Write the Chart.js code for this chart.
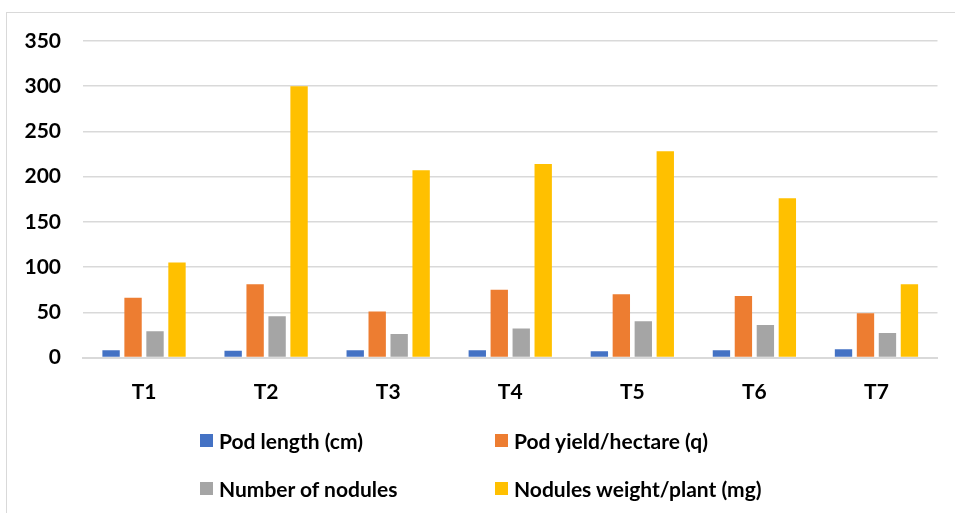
<!DOCTYPE html>
<html>
<head>
<meta charset="utf-8">
<script src="https://cdn.jsdelivr.net/npm/chart.js@4/dist/chart.umd.min.js"></script>
<style>
    html, body { margin: 0; padding: 0; background: #fff; overflow: hidden; }
    #wrap { position: relative; width: 955px; height: 513px; }
    #frame { position: absolute; left: 6px; top: 12px; width: 1200px; height: 1200px;
             border: 1px solid #d9d9d9; box-sizing: border-box; }
    #chart { position: absolute; left: 0; top: 0; }
    #legend { position: absolute; left: 0; top: 0; width: 955px; height: 513px;
              font-family: 'Lato', sans-serif; font-weight: bold; font-size: 21px; color: #000; }
    .item { position: absolute; display: flex; align-items: center; white-space: nowrap; }
    .box { width: 13px; height: 13px; margin-right: 6px; }
</style>
</head>
<body>
<div id="wrap">
    <div id="frame"></div>
    <canvas id="chart" width="955" height="513"></canvas>
    <div id="legend"></div>
</div>
<script>
var categories = ['T1', 'T2', 'T3', 'T4', 'T5', 'T6', 'T7'];
var seriesNames = ['Pod length (cm)', 'Pod yield/hectare (q)', 'Number of nodules', 'Nodules weight/plant (mg)'];
var podLength = [8, 7.5, 8, 8, 7, 8, 9];
var podYield = [66, 81, 51, 75, 70, 68, 49];
var noduleCount = [29, 45.5, 26, 32, 40, 36, 27];
var noduleWeight = [105, 300, 207, 214, 228, 176, 81];
var yTicks = [0, 50, 100, 150, 200, 250, 300, 350];
var colors = ['#4472C4', '#ED7D31', '#A5A5A5', '#FFC000'];

window.onload = function () {
    var ctx = document.getElementById('chart').getContext('2d');
    var values = [podLength, podYield, noduleCount, noduleWeight];
    var tickFont = { family: 'Lato', weight: 'bold', size: 21 };

    var chart = new Chart(ctx, {
        type: 'bar',
        data: {
            labels: categories,
            datasets: values.map(function (v, i) {
                return {
                    label: seriesNames[i],
                    data: v,
                    backgroundColor: colors[i],
                    borderWidth: 0,
                    barPercentage: 0.79,
                    categoryPercentage: 0.72
                };
            })
        },
        options: {
            responsive: false,
            animation: false,
            layout: { padding: { left: 0, top: 41, right: 17.5, bottom: 95.5 } },
            plugins: {
                legend: { display: false },
                tooltip: { enabled: false }
            },
            scales: {
                x: {
                    grid: { display: false },
                    border: { display: true, color: '#d9d9d9', width: 2 },
                    ticks: { color: '#000', font: tickFont, padding: 14 },
                    afterFit: function (s) { s.height = 60; }
                },
                y: {
                    min: 0,
                    max: 350,
                    afterBuildTicks: function (s) {
                        s.ticks = yTicks.map(function (t) { return { value: t }; });
                    },
                    grid: { color: '#d9d9d9', lineWidth: 1.5, drawTicks: false },
                    border: { display: false },
                    ticks: { color: '#000', font: tickFont, padding: 22 },
                    afterFit: function (s) { s.width = 83; }
                }
            }
        }
    });

    // two-column legend like the original
    var legend = document.getElementById('legend');
    var spots = [[200, 440], [495, 440], [200, 488], [495, 488]];
    chart.data.datasets.forEach(function (ds, i) {
        var item = document.createElement('div');
        item.className = 'item';
        item.style.left = spots[i][0] + 'px';
        item.style.top = (spots[i][1] - 13) + 'px';
        item.style.height = '26px';
        var box = document.createElement('span');
        box.className = 'box';
        box.style.background = ds.backgroundColor;
        var txt = document.createElement('span');
        txt.textContent = ds.label;
        item.appendChild(box);
        item.appendChild(txt);
        legend.appendChild(item);
    });
};
</script>
</body>
</html>
